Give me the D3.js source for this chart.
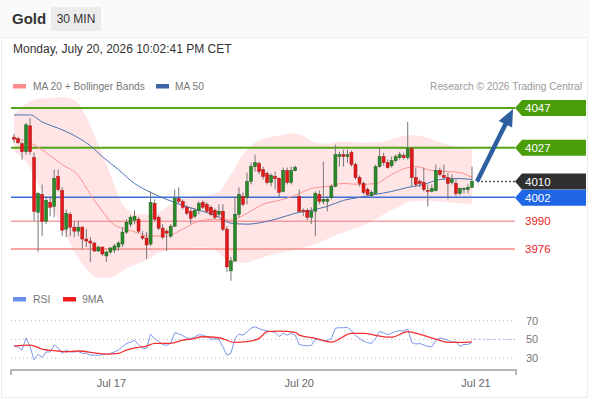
<!DOCTYPE html>
<html><head><meta charset="utf-8">
<script src="https://cdn.jsdelivr.net/npm/d3@7"></script>
<style>body{margin:0;background:#fff;} svg{display:block;font-family:"Liberation Sans",Arial,sans-serif;}</style>
</head><body><svg id="c" width="590" height="400"></svg>
<script>
// ---- data ----
const open = [4032.3,4031.5,4029,4025,4038,4022,3994.5,4003.5,3990,3999.5,
3997.5,4012.5,4005.5,3986,3993.5,3987,3985,3987,3981,3980,
3979,3975,3977,3972.5,3974.5,3975.5,3977,3978.5,3984.5,3988.5,
3990.5,3991,3982.5,3981.5,3978.5,3999,3992,3986.5,3985,3982.5,
3987.5,4001.5,4000,3997,3995,3992.5,3995.5,3999.5,3998.5,3997,
3995.5,3993.5,3995,3986,3965,3970,3993.5,4002.5,4002,4010,
4017.5,4019,4016,4014,4009.5,4012.5,4011.5,4005,4015.5,4009.5,
4015.5,4002.5,3995.5,3995.5,3992,3995,4003.5,4000,4000,4002,
4007.5,4022.5,4023.5,4022.5,4024.5,4018.5,4012,4009,4006,4003,
4004,4017.5,4022.5,4019.5,4018,4020.5,4022,4023,4022,4026.5,
4012,4010,4009.5,4005.5,4005,4005.5,4015.5,4013,4012,4009.5,
4009,4004,4006,4006,4007];
const high = [4034,4032.5,4030,4039.5,4042,4024.5,4004.5,4008.5,4002.5,4002,
4016,4016,4007,3996,3994.5,3990,3990,3987.5,3986,3982,
3979.5,3977.5,3977,3975,3977,3978.5,3980,3987,3991,3993,
3995.5,3992,3985,3984.5,4005,4001,3993,3988.5,3986,3988.5,
4006,4007,4001,3998,3997,3996.5,4000,4000.5,3999.5,3998,
3996.5,3998.5,3998.5,3987.5,3972,4002.5,4007,4004.5,4014.5,4019.5,
4023.5,4020,4017.5,4015,4014,4015,4012,4017,4017,4017.5,
4018,4006,3996.5,3996.5,3997,4005,4005.5,4020,4002.5,4008.5,
4028.5,4025,4026,4026,4025.5,4019.5,4013,4010,4007,4005.5,
4018.5,4027,4024.5,4021,4022.5,4023.5,4025,4024.5,4040,4027,
4017,4011,4017,4008.5,4008.5,4018.5,4017,4018.5,4014.5,4013.5,
4011,4007,4007,4008.5,4017.5];
const low = [4029.5,4029,4021,4023.5,4023.5,3990,3974.5,3982.5,3988.5,3992.5,
3992,4005,3982.5,3982,3982.5,3982,3982.5,3976,3977,3969.5,
3974.5,3974.5,3972.5,3969.5,3973.5,3974,3975,3977,3983.5,3987,
3988.5,3984,3980.5,3971,3977.5,3990,3985.5,3981,3975,3981.5,
3987,3998.5,3996,3993,3988.5,3991.5,3993.5,3996,3994,3992.5,
3991,3992,3985,3964.5,3960,3969.5,3992,3997.5,3998.5,4008.5,
4015,4013.5,4011,4008.5,4007.5,4006,4002,4004.5,4008.5,4008.5,
4015,3994.5,3992.5,3990.5,3988.5,3982.5,3998.5,3998.5,3995,4001,
4007,4017.5,4017.5,4019.5,4017.5,4011,4007.5,4003.5,4002.5,4002,
4003.5,4017,4018,4016.5,4017,4019.5,4021,4021,4021,4007.5,
4007,4007,4005,3997.5,4004.5,4005,4012.5,4011,4001,4008.5,
4002.5,4003,4004,4004,4007];
const close = [4031.3,4029.5,4025,4038.5,4025,3995,4004,3990,4000.5,3997,
4011.5,4006,3985.5,3994,3987,3985,3987,3981,3980,3979,
3975,3977,3973.5,3974.5,3976.5,3977.5,3979,3984.5,3989.5,3992,
3992.5,3985,3981.5,3978,3999.5,3991,3986.5,3982,3984,3987.5,
4001.5,4000,3997,3994,3991.5,3995.5,3999,3997,3995,3993.5,
3992,3995,3986,3967,3970,3993.5,4003.5,3998.5,4010,4017.5,
4019.5,4015,4012.5,4009.5,4013,4011.5,4004.5,4015.5,4009.5,4015.5,
4017,3995,3995,3992,3995,4004,4000,4001,4001,4007.5,
4023.5,4023.5,4022.5,4023.5,4018.5,4012,4009,4004.5,4003.5,4004.5,
4017.5,4022.5,4019.5,4017,4020.5,4022.5,4023.5,4022,4026.5,4012,
4008.5,4009,4006,4005,4006.5,4015.5,4013.5,4012,4009,4011,
4004,4006.5,4006.5,4007,4010];

const bandIdx = [0,3,6,9,12,15,18,21,24,27,30,33,36,39,42,45,48,51,54,57,60,63,66,69,72,75,78,81,84,87,90,93,96,99,102,105,108,111,114];
const bandUpper = [4043.5,4049,4051.5,4052,4052.5,4051,4042.5,4028.5,4013.5,3998.5,3994,3993.5,3994.5,3998.5,4001,4002.5,4003,4005,4013.5,4023.5,4029.5,4032,4033,4034.3,4033,4029.5,4029,4030,4030,4029.5,4029.8,4030.5,4032.5,4033.3,4032.5,4030.5,4028.5,4027.3,4026];
const bandLower = [4025,4020,4008.5,3998.5,3987,3975,3966,3961.5,3961.5,3965,3968,3970.5,3974,3975.5,3976,3976.7,3976.7,3974,3969,3969,3970.5,3972.5,3974,3975,3976.5,3978.5,3981,3983.5,3985.8,3988,3991,3994.5,3997.5,4000,4000.3,4000,3999.5,3999,3998.5];

const ma20Idx = [0,4,8,12,16,19,22,25,28,31,34,38,42,46,50,54,58,62,66,70,74,78,82,86,90,94,98,100,104,108,111,114];
const ma20Val = [4032,4029.5,4024.5,4018.5,4013,4003.5,3995,3988,3986,3984,3982.5,3982.5,3986,3990,3991,3990.5,3994,3998.5,4000.5,4003,4006.5,4007.5,4009,4008.5,4009,4013.5,4017,4017.5,4015.5,4015,4014.5,4012];

const ma50Idx = [0,4,7,12,16,19,22,26,30,34,38,42,46,50,54,58,62,66,70,74,78,82,86,90,94,98,102,106,110,114];
const ma50Val = [4043.5,4043.5,4040,4036,4032,4028,4022.5,4016,4009,4004.5,4001,3998,3995.5,3993,3989,3988.5,3989.5,3991.5,3994,3995.5,3997.5,4000.5,4002,4003.5,4005,4007,4008.5,4011,4011.5,4011];

const rsi = [43,42,38.5,51.5,42,28,34,30.5,36.5,36.5,
44,41,35,38.5,36.5,36.5,37,35,35,33,
33,33,33.5,34,35,36.5,38.5,42.5,45.5,47,
49,44.5,40.5,40.5,55.5,50.5,48,44.5,43.5,46,
57,56,54,51.5,51,52.5,55,54.5,53,50,
50.5,50,42,33,35,51,55.5,54.5,58,62,
63.5,61.5,60,59,58.5,57.5,53,56.5,54.5,56.5,
54.5,44.5,43.5,43,43.5,50,49.5,48.5,49,51,
62,62.5,62.5,62.8,59.5,54,51,48,46.5,45.7,
51,58.5,57,55,56.5,58.5,59.3,59,61,46.5,
45,45.5,44,42.5,42,49,51.5,50.3,49.2,47,
47.5,42.5,44.5,44.6,46.8];
const ma9Idx = [0,4,7,11,13,16,20,23,26,28,31,33,35,39,42,44,47,51,55,58,61,63,66,70,71,75,79,84,87,91,94,98,101,105,108,111,114];
const ma9Val = [42.8,43.9,39.6,37.5,36.7,37.5,35.6,34.2,35,38.5,41.4,42.8,45.7,45.7,49.2,50.3,52.8,51.7,46.8,47.5,51,58.2,58.9,57.5,54.6,51,47,56.4,56.4,53.5,52.3,58.2,55.4,50.3,46.8,46.8,47.4];

const resistLevels = [4047, 4027];
const pivotLevel = 4002;
const supportLevels = [3990, 3976];
const lastPrice = 4010;
const targetPrice = 4047;
const rsiLevels = [70, 50, 30];
const dateTicks = [24, 71, 115];
const dateLabels = ["Jul 17", "Jul 20", "Jul 21"];

// ---- scales ----
const svg = d3.select('#c');
const xI = d3.scaleLinear().domain([0, 114]).range([14, 472]);
const yP = d3.scaleLinear().domain([3976, 4047]).range([249, 108]);
const yR = d3.scaleLinear().domain([30, 70]).range([358, 320.7]);
const L = 11, R = 515;

// ---- header ----
svg.append('rect').attr('x',0).attr('y',0).attr('width',590).attr('height',37).attr('fill','#fafafa');
svg.append('rect').attr('x',1.5).attr('y',37.5).attr('width',586).attr('height',360).attr('fill','#fff').attr('stroke','#ececec');
svg.append('text').text('Gold').attr('x',12).attr('y',24).attr('font-size',15).attr('font-weight','bold').attr('fill','#333');
svg.append('rect').attr('x',51).attr('y',7).attr('width',50).attr('height',24).attr('fill','#ececec');
svg.append('text').text('30 MIN').attr('x',76).attr('y',23).attr('text-anchor','middle').attr('font-size',12).attr('fill','#333');
svg.append('text').text('Monday, July 20, 2026 10:02:41 PM CET').attr('x',13).attr('y',53).attr('font-size',12).attr('fill','#333');

// legend
svg.append('rect').attr('x',13).attr('y',84).attr('width',13).attr('height',4.5).attr('fill','#ff8c8c');
svg.append('text').text('MA 20 + Bollinger Bands').attr('x',33).attr('y',90).attr('font-size',10.2).attr('fill','#777');
svg.append('rect').attr('x',156).attr('y',84).attr('width',13).attr('height',4.5).attr('fill','#3a64a4');
svg.append('text').text('MA 50').attr('x',175).attr('y',90).attr('font-size',10.2).attr('fill','#777');
svg.append('text').text('Research \u00a9 2026 Trading Central').attr('x',582).attr('y',90).attr('text-anchor','end').attr('font-size',10.2).attr('fill','#9a9a9a');

// ---- bollinger band ----
const curve = d3.curveMonotoneX;
const areaGen = d3.area().x((d,k)=>xI(bandIdx[k])).y0((d,k)=>yP(bandLower[k])).y1((d,k)=>yP(bandUpper[k])).curve(curve);
svg.append('path').attr('d', areaGen(bandIdx)).attr('fill','#ffdcdc').attr('opacity',0.75);

// ---- level lines ----
resistLevels.forEach(v=>{
  svg.append('line').attr('x1',L).attr('x2',R).attr('y1',yP(v)).attr('y2',yP(v)).attr('stroke','#55a31a').attr('stroke-width',2);
});
svg.append('line').attr('x1',L).attr('x2',R).attr('y1',yP(pivotLevel)).attr('y2',yP(pivotLevel)).attr('stroke','#3b6fd6').attr('stroke-width',1.5);
svg.append('line').attr('x1',L).attr('x2',R).attr('y1',yP(supportLevels[0])).attr('y2',yP(supportLevels[0])).attr('stroke','#f07878').attr('stroke-width',1);
svg.append('line').attr('x1',L).attr('x2',R).attr('y1',yP(supportLevels[1])).attr('y2',yP(supportLevels[1])).attr('stroke','#f7a6a6').attr('stroke-width',2);

// ---- moving averages ----
const ma20Line = d3.line().x((d,k)=>xI(ma20Idx[k])).y(d=>yP(d)).curve(curve);
svg.append('path').attr('d', ma20Line(ma20Val)).attr('fill','none').attr('stroke','#ff9090').attr('stroke-width',1);
const ma50Line = d3.line().x((d,k)=>xI(ma50Idx[k])).y(d=>yP(d)).curve(curve);
svg.append('path').attr('d', ma50Line(ma50Val)).attr('fill','none').attr('stroke','#4a72b2').attr('stroke-width',1);

// ---- candles ----
const cg = svg.append('g');
open.forEach((o,i)=>{
  const c = close[i], up = c >= o;
  const x = xI(i);
  cg.append('line').attr('x1',x).attr('x2',x).attr('y1',yP(high[i])).attr('y2',yP(low[i])).attr('stroke','#777').attr('stroke-width',1);
  const top = yP(Math.max(o,c)), bot = yP(Math.min(o,c));
  cg.append('rect').attr('x',x-1.5).attr('y',top).attr('width',3).attr('height',Math.max(1,bot-top))
    .attr('fill', up ? '#2a8a2a' : '#e41a1a').attr('stroke', up ? '#1d5e1d' : '#a81010').attr('stroke-width',0.5);
});

// ---- last price dotted + arrow ----
const lastI = open.length - 1;
const sx = xI(lastI) + 5, sy = yP(lastPrice);
svg.append('line').attr('x1',sx).attr('x2',R).attr('y1',sy).attr('y2',sy).attr('stroke','#555').attr('stroke-width',1.5).attr('stroke-dasharray','2,2');
const tx = 513, ty = yP(targetPrice) + 1;
const dx = tx - sx, dy = ty - sy, len = Math.hypot(dx,dy), ux = dx/len, uy = dy/len;
const hl = 17, hw = 7.5, bx = tx - ux*hl, by = ty - uy*hl;
svg.append('line').attr('x1',sx).attr('y1',sy).attr('x2',bx+ux*2).attr('y2',by+uy*2).attr('stroke','#2e5f9f').attr('stroke-width',4.5);
svg.append('path').attr('d',`M${tx},${ty}L${bx-uy*hw},${by+ux*hw}L${bx+uy*hw},${by-ux*hw}Z`).attr('fill','#2e5f9f');

// ---- price labels ----
function tag(v, color, dyOff){
  const cy = yP(v) + (dyOff||0);
  svg.append('path').attr('d',`M515,${cy}L522,${cy-8}L586,${cy-8}L586,${cy+8}L522,${cy+8}Z`).attr('fill',color);
  svg.append('text').text(v).attr('x',525).attr('y',cy+4.2).attr('font-size',11.5).attr('fill','#fff');
}
resistLevels.forEach(v=>tag(v,'#4a9e0c'));
tag(lastPrice,'#2f2f2f');
tag(pivotLevel,'#1f66e5',0.5);
supportLevels.forEach(v=>{
  svg.append('text').text(v).attr('x',525).attr('y',yP(v)+4.2).attr('font-size',11.5).attr('fill','#ee1c1c');
});

// ---- RSI panel ----
svg.append('rect').attr('x',13).attr('y',297).attr('width',13).attr('height',4.5).attr('fill','#6a8fea');
svg.append('text').text('RSI').attr('x',33).attr('y',303).attr('font-size',10.5).attr('fill','#777');
svg.append('rect').attr('x',63).attr('y',297).attr('width',13).attr('height',4.5).attr('fill','#f01c1c');
svg.append('text').text('9MA').attr('x',82).attr('y',303).attr('font-size',10.5).attr('fill','#777');
rsiLevels.forEach(v=>{
  svg.append('line').attr('x1',L).attr('x2',R).attr('y1',yR(v)).attr('y2',yR(v)).attr('stroke','#bbb').attr('stroke-width',1).attr('stroke-dasharray','1,3');
  svg.append('text').text(v).attr('x',526).attr('y',yR(v)+4).attr('font-size',11).attr('fill','#777');
});
const rsiLine = d3.line().x((d,i)=>xI(i)).y(d=>yR(d));
svg.append('path').attr('d', rsiLine(rsi)).attr('fill','none').attr('stroke','#7b97ec').attr('stroke-width',1);
svg.append('line').attr('x1',xI(lastI)+1).attr('x2',R).attr('y1',yR(50)).attr('y2',yR(50)).attr('stroke','#b4c2ee').attr('stroke-width',1).attr('stroke-dasharray','3,2');
const ma9Line = d3.line().x((d,k)=>xI(ma9Idx[k])).y(d=>yR(d)).curve(curve);
svg.append('path').attr('d', ma9Line(ma9Val)).attr('fill','none').attr('stroke','#f23030').attr('stroke-width',1.3);

// ---- x axis ----
svg.append('path').attr('d',`M${L},375V370H516V375`).attr('fill','none').attr('stroke','#b5b5b5').attr('stroke-width',2);
dateTicks.forEach((t,k)=>{
  svg.append('text').text(dateLabels[k]).attr('x',xI(t)+(k===0?1:0)).attr('y',387).attr('text-anchor','middle').attr('font-size',11).attr('fill','#666');
});
</script></body></html>
